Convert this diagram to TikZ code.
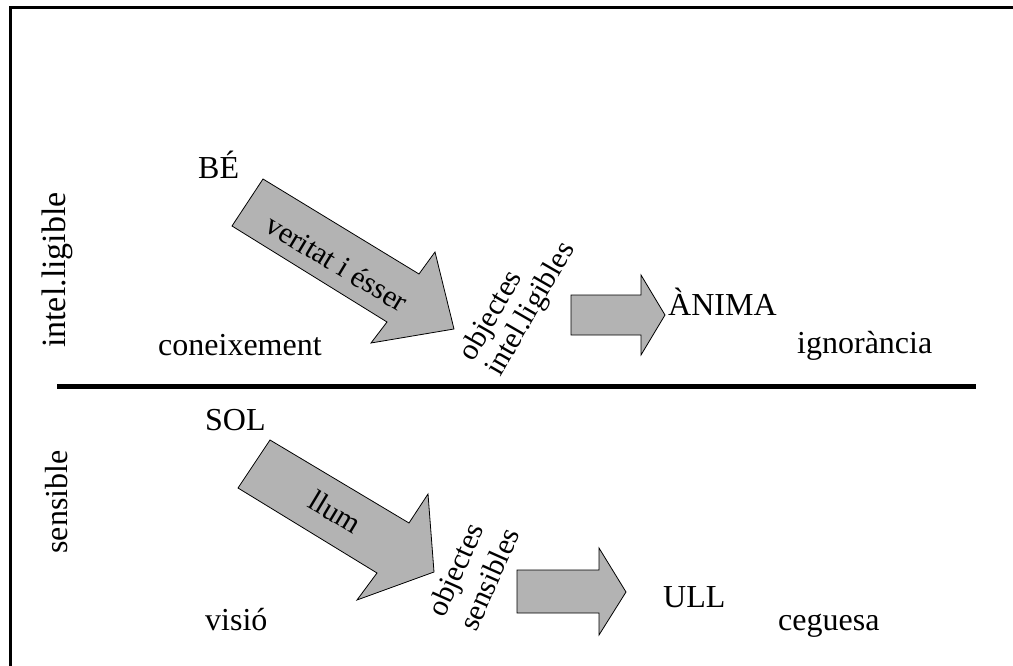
\documentclass[tikz,border=0pt]{standalone}
\usepackage{fontspec}
\setmainfont{Liberation Serif}
\definecolor{arrowgrey}{RGB}{179,179,179}
\begin{document}
\begin{tikzpicture}[x=1pt,y=-1pt,
  lbl/.style={font=\fontsize{32}{33}\selectfont, inner sep=0pt},
  blockarrow/.style={fill=arrowgrey, draw=black, line width=0.8pt, line join=miter}]
\useasboundingbox (0,0) rectangle (1013,666);
% frame and divider
\draw[line width=3pt] (10,666) -- (10,8) -- (1013,8);
\coordinate (divL) at (57,386);
\coordinate (divR) at (976,386);
\draw[line width=5pt] (divL) -- (divR);
% block arrows
\draw[blockarrow] (263,179) -- (419,274) -- (435,252) -- (454,329) -- (371,343) -- (387,322) -- (232,226) -- cycle;
\draw[blockarrow] (571,295) -- (641,295) -- (641,275) -- (665,315) -- (641,355) -- (641,335) -- (571,335) -- cycle;
\draw[blockarrow] (270,440) -- (409,523) -- (428,494) -- (434,572) -- (357,600) -- (377,573) -- (238,488) -- cycle;
\draw[blockarrow] (517,570) -- (599,570) -- (599,548) -- (626,592) -- (599,635) -- (599,613) -- (517,613) -- cycle;
% texts
\node[lbl, anchor=base west] (be) at (198,179) {BÉ};
\node[lbl, anchor=base west] (con) at (158,355) {coneixement};
\node[lbl, anchor=base west] (anima) at (668,315) {ÀNIMA};
\node[lbl, anchor=base west] (ign) at (797,353) {ignorància};
\node[lbl, anchor=base west] (sol) at (205,430) {SOL};
\node[lbl, anchor=base west] (visio) at (205,630) {visió};
\node[lbl, anchor=base west] (ull) at (663,607) {ULL};
\node[lbl, anchor=base west] (ceg) at (778,630) {ceguesa};
\node[lbl, rotate=90, font=\fontsize{34}{36}\selectfont] (intel) at (57,270) {intel.ligible};
\node[lbl, rotate=90] (sens) at (57,502) {sensible};
\node[lbl, rotate=-31, font=\fontsize{30}{32}\selectfont] (ver) at (337,263) {veritat i ésser};
\node[lbl, rotate=-31, font=\fontsize{30}{32}\selectfont] (llum) at (335,512) {llum};
\node[lbl, rotate=60, align=left, font=\fontsize{30}{31}\selectfont] (oi) at (518,302) {objectes\\intel.ligibles};
\node[lbl, rotate=66, align=left, font=\fontsize{30}{31}\selectfont] (os) at (473,572) {objectes\\[4pt]sensibles};
\end{tikzpicture}
\end{document}
